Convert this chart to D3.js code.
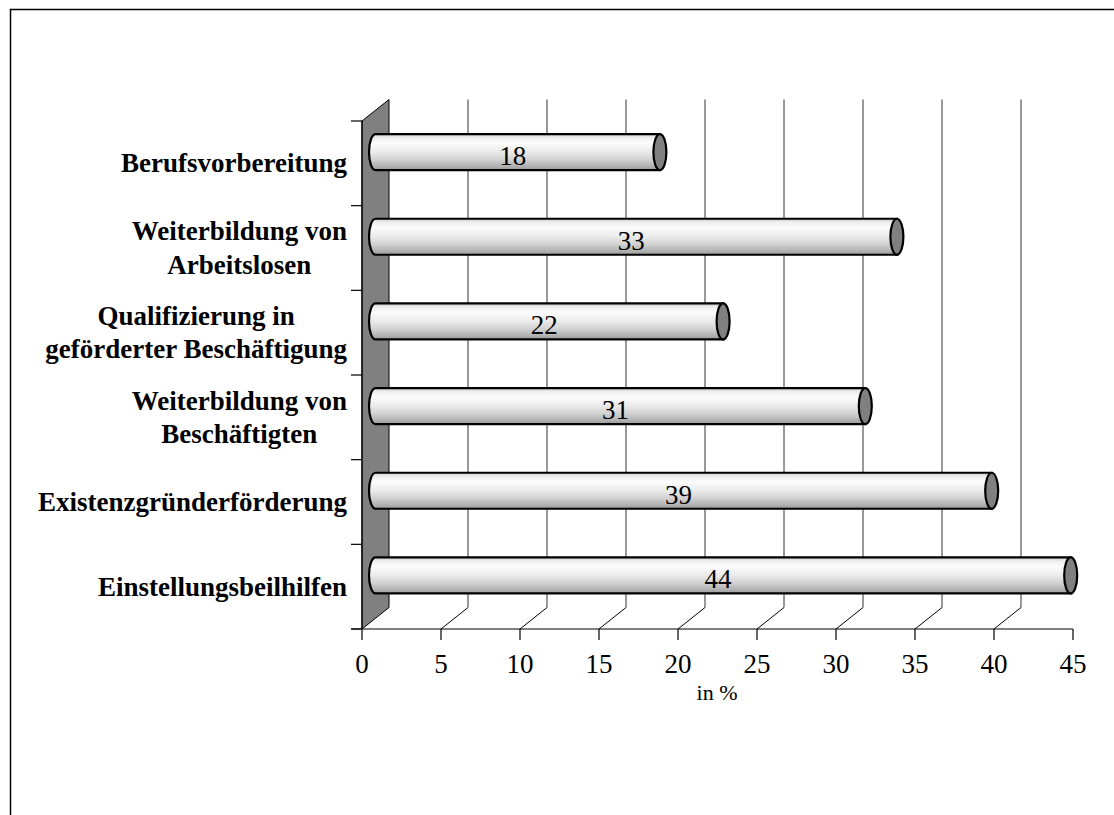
<!DOCTYPE html>
<html>
<head>
<meta charset="utf-8">
<script src="https://cdn.jsdelivr.net/npm/d3@7"></script>
<style>
html,body{margin:0;padding:0;background:#fff;}
svg{display:block;}
text{font-family:"Liberation Serif","Times New Roman",serif;fill:#000;}
</style>
</head>
<body>
<svg id="chart" width="1114" height="815"></svg>
<script>
const categories = [
  ["Berufsvorbereitung"],
  ["Weiterbildung von", "Arbeitslosen"],
  ["Qualifizierung in", "geförderter Beschäftigung"],
  ["Weiterbildung von", "Beschäftigten"],
  ["Existenzgründerförderung"],
  ["Einstellungsbeilhilfen"]
];
const values = [18, 33, 22, 31, 39, 44];
const xTicks = [0, 5, 10, 15, 20, 25, 30, 35, 40, 45];
const xTitle = "in %";

(function () {
const svg = d3.select("#chart");
const W = 1114, H = 815;

// frame (clipped at right and bottom)
svg.append("path").attr("d", `M10.5,${H} L10.5,9.5 L${W},9.5`)
  .attr("fill", "none").attr("stroke", "#000").attr("stroke-width", 1.5);

const pL = 362, pR = 1073, pT = 121, pB = 629;
const dx = 27, dy = -21.5;

const x = d3.scaleLinear().domain([0, 45]).range([pL, pR]);
const y = d3.scaleBand().domain(d3.range(categories.length)).range([pT, pB]);

// gradient for cylinders
const defs = svg.append("defs");
const grad = defs.append("linearGradient").attr("id", "cyl")
  .attr("x1", 0).attr("y1", 0).attr("x2", 0).attr("y2", 1);
[[0, "#cdcdcd"], [0.1, "#eeeeee"], [0.25, "#fcfcfc"], [0.5, "#eaeaea"],
 [0.72, "#d0d0d0"], [0.9, "#b0b0b0"], [1, "#9a9a9a"]]
  .forEach(([o, c]) => grad.append("stop").attr("offset", o).attr("stop-color", c));

// back gridlines
const gridVals = xTicks.filter(v => v > 0 && v < 45);
svg.append("g").selectAll("line").data(gridVals).join("line")
  .attr("x1", d => x(d) + dx).attr("x2", d => x(d) + dx)
  .attr("y1", pT + dy).attr("y2", pB + dy)
  .attr("stroke", "#333").attr("stroke-width", 1);

// floor depth diagonals
svg.append("g").selectAll("line").data(gridVals).join("line")
  .attr("x1", d => x(d)).attr("y1", pB)
  .attr("x2", d => x(d) + dx).attr("y2", pB + dy)
  .attr("stroke", "#000").attr("stroke-width", 1);

// side wall
svg.append("path")
  .attr("d", `M${pL},${pT} L${pL + dx},${pT + dy} L${pL + dx},${pB + dy} L${pL},${pB} Z`)
  .attr("fill", "#808080").attr("stroke", "#000").attr("stroke-width", 1);

// axes lines
const ax = svg.append("g").attr("stroke", "#000").attr("stroke-width", 1.2);
ax.append("line").attr("x1", pL).attr("x2", pL).attr("y1", pT).attr("y2", pB);
ax.append("line").attr("x1", pL - 11).attr("x2", pR).attr("y1", pB).attr("y2", pB);
const bandEdges = d3.range(categories.length + 1).map(i => pT + i * y.step());
ax.selectAll(".ct").data(bandEdges).join("line").attr("class", "ct")
  .attr("x1", pL - 11).attr("x2", pL).attr("y1", d => d).attr("y2", d => d);
ax.selectAll(".vt").data(xTicks).join("line").attr("class", "vt")
  .attr("x1", d => x(d)).attr("x2", d => x(d)).attr("y1", pB).attr("y2", pB + 11);

// tick labels
svg.append("g").selectAll("text").data(xTicks).join("text")
  .attr("x", d => x(d)).attr("y", pB + 44)
  .attr("text-anchor", "middle").attr("font-size", 27).text(d => d);

svg.append("text").attr("x", 717).attr("y", 700).attr("text-anchor", "middle")
  .attr("font-size", 22).text(xTitle);

// category labels
const catG = svg.append("g");
categories.forEach((lines, i) => {
  const cy = y(i) + y.bandwidth() / 2;
  const g = catG.append("g");
  const lh = 33.5;
  const t = lines.map((ln, k) => g.append("text")
    .attr("font-size", 27).attr("font-weight", "bold")
    .attr("y", cy + 9 + (k - (lines.length - 1) / 2) * lh)
    .attr("text-anchor", "middle").text(ln));
  const maxW = d3.max(t, s => s.node().getComputedTextLength());
  t.forEach(s => s.attr("x", 347 - maxW / 2));
});

// cylinders
const barH = 36, rx = 6.5;
const bars = svg.append("g");
values.forEach((v, i) => {
  const cy = y(i) + y.bandwidth() / 2 + dy / 2 - 0.5;
  const x0 = x(0) + dx / 2, x1 = x(v) + dx / 2;
  const yt = cy - barH / 2, yb = cy + barH / 2;
  bars.append("path")
    .attr("d", `M${x0},${yt} L${x1},${yt} L${x1},${yb} L${x0},${yb} A${rx},${barH / 2} 0 0 1 ${x0},${yt} Z`)
    .attr("fill", "url(#cyl)").attr("stroke", "#000").attr("stroke-width", 2.2);
  bars.append("ellipse").attr("cx", x1).attr("cy", cy).attr("rx", rx).attr("ry", barH / 2)
    .attr("fill", "#808080").attr("stroke", "#000").attr("stroke-width", 2.2);
  bars.append("text").attr("x", (x0 + x1) / 2 - 5).attr("y", cy + 13)
    .attr("text-anchor", "middle").attr("font-size", 27).text(v);
});
})();
</script>
</body>
</html>
